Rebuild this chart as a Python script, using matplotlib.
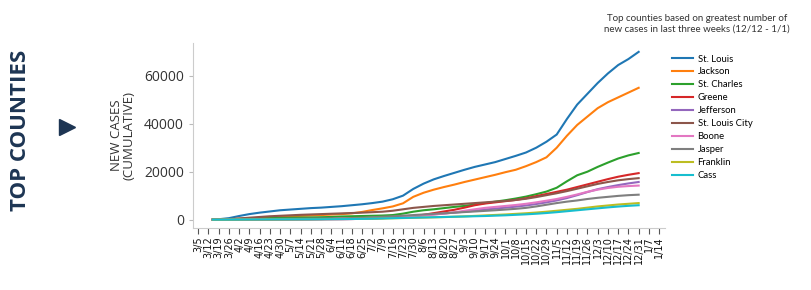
import matplotlib
matplotlib.use("Agg")
import matplotlib.pyplot as plt
from matplotlib.lines import Line2D
import pandas as pd

# weekly readings, first point 3/15, then every 7 days from 3/19 to 12/31
dates = pd.DatetimeIndex([pd.Timestamp("2020-03-15")]).append(
    pd.date_range("2020-03-19", "2020-12-31", freq="7D"))

st_louis = [0, 150, 600, 1500, 2300, 2900, 3400, 3900, 4200, 4500, 4800, 5000, 5300,
            5600, 6000, 6400, 6900, 7500, 8500, 10000, 12800, 15000, 16800, 18200, 19500,
            20800, 22000, 23000, 24000, 25300, 26600, 28000, 30000, 32500, 35500, 42000,
            48000, 52500, 57000, 61000, 64500, 67000, 70000]
jackson = [0, 30, 150, 350, 550, 750, 950, 1150, 1400, 1550, 1700, 1900, 2100, 2300,
           2600, 3200, 4000, 4700, 5500, 6800, 9500, 11200, 12500, 13600, 14600, 15700,
           16700, 17700, 18700, 19800, 20800, 22300, 24000, 26000, 30000, 35000, 39500,
           43000, 46500, 49000, 51000, 53000, 55000]
st_charles = [0, 20, 100, 250, 400, 500, 600, 700, 800, 850, 900, 1000, 1100, 1300,
              1400, 1500, 1600, 1700, 1900, 2500, 3300, 3900, 4300, 4800, 5300, 5700,
              6300, 6900, 7500, 8100, 8800, 9600, 10600, 11700, 13300, 16000, 18500,
              20000, 22000, 23800, 25500, 26800, 27800]
greene = [0, 10, 40, 70, 90, 100, 110, 120, 130, 140, 150, 160, 180, 200, 250, 330,
          450, 600, 800, 1100, 1500, 2000, 2700, 3400, 4100, 5000, 6000, 6700, 7200,
          7700, 8200, 8900, 9800, 10700, 11600, 12500, 13600, 14700, 15800, 16900,
          17900, 18700, 19400]
jefferson = [0, 10, 40, 100, 150, 200, 250, 280, 310, 340, 370, 400, 430, 470, 520,
             600, 700, 850, 1000, 1250, 1500, 1850, 2200, 2550, 2900, 3300, 3700, 4200,
             4600, 5000, 5400, 5900, 6500, 7200, 8000, 9000, 10200, 11500, 12700,
             13600, 14400, 15100, 15700]
st_louis_city = [0, 50, 200, 500, 800, 1100, 1400, 1600, 1800, 2000, 2150, 2300, 2450,
                 2600, 2750, 2900, 3100, 3300, 3700, 4300, 4900, 5300, 5700, 6000, 6300,
                 6600, 6900, 7200, 7500, 7800, 8200, 8700, 9400, 10200, 11000, 11900,
                 12900, 13900, 14900, 15700, 16400, 16900, 17300]
boone = [0, 10, 30, 60, 80, 90, 100, 110, 115, 120, 130, 140, 150, 170, 220, 350, 550,
         750, 950, 1200, 1500, 1800, 2100, 2500, 3000, 3700, 4300, 4900, 5300, 5700,
         6100, 6600, 7200, 7900, 8600, 9500, 10500, 11600, 12500, 13200, 13700, 14000,
         14200]
jasper = [0, 5, 10, 20, 30, 40, 50, 60, 70, 90, 120, 200, 350, 500, 650, 800, 1000,
          1200, 1400, 1650, 1900, 2150, 2400, 2650, 2900, 3150, 3400, 3650, 3900, 4200,
          4500, 4900, 5500, 6200, 6900, 7500, 8000, 8600, 9100, 9500, 9900, 10200, 10400]
franklin = [0, 5, 20, 50, 80, 100, 120, 140, 160, 180, 200, 220, 240, 260, 280, 320,
            380, 450, 550, 650, 750, 850, 950, 1050, 1200, 1350, 1550, 1750, 1950, 2150,
            2400, 2650, 2950, 3300, 3700, 4100, 4500, 5000, 5500, 5900, 6300, 6600, 6900]
cass = [0, 5, 20, 40, 60, 80, 100, 110, 120, 130, 140, 150, 170, 200, 250, 320, 400,
        500, 600, 700, 800, 900, 1000, 1100, 1200, 1300, 1400, 1500, 1650, 1800, 2000,
        2200, 2450, 2750, 3100, 3500, 3900, 4300, 4700, 5100, 5450, 5750, 6000]

counties = ["St. Louis", "Jackson", "St. Charles", "Greene", "Jefferson",
            "St. Louis City", "Boone", "Jasper", "Franklin", "Cass"]
series = [st_louis, jackson, st_charles, greene, jefferson,
          st_louis_city, boone, jasper, franklin, cass]

tick_dates = pd.date_range("2020-03-05", "2021-01-14", freq="7D")
tick_labels = [f"{d.month}/{d.day}" for d in tick_dates]

plt.rcParams["font.family"] = ["Open Sans", "DejaVu Sans"]

fig = plt.figure(figsize=(8.12, 2.90), dpi=100)
ax = fig.add_axes([193 / 812, 62 / 290, 472 / 812, 185 / 290])

for name, vals in zip(counties, series):
    ax.plot(dates, vals, lw=1.5, label=name)

ax.set_xlim(pd.Timestamp("2020-03-01 12:00"), pd.Timestamp("2021-01-18"))
ax.set_ylim(-3500, 73700)
ax.set_xticks(tick_dates)
ax.set_xticklabels(tick_labels, rotation=90, fontsize=7, color="#111111",
                   family="DejaVu Sans")
ax.set_yticks([0, 20000, 40000, 60000])
ax.tick_params(axis="y", labelsize=10, labelcolor="#333333", length=3, width=0.8,
               color="#bbbbbb")
ax.tick_params(axis="x", length=4, width=0.8, color="#555555", pad=2)
for s in ["top", "right"]:
    ax.spines[s].set_visible(False)
for s in ["left", "bottom"]:
    ax.spines[s].set_color("#cccccc")
    ax.spines[s].set_linewidth(0.8)

ax.set_ylabel("NEW CASES\n(CUMULATIVE)", fontsize=9.5, color="#333333",
              linespacing=0.95, labelpad=6)

fig.legend(loc="upper left", bbox_to_anchor=(664 / 812, 1 - 46 / 290),
           frameon=False, handlelength=2.2, labelspacing=0.42,
           handletextpad=0.45, prop={"family": "Lato", "size": 6.8})

fig.text(697 / 812, 1 - 24 / 290,
         "Top counties based on greatest number of\nnew cases in last three weeks (12/12 - 1/1)",
         ha="center", va="center", fontsize=7, family="Lato", color="#333333",
         linespacing=1.25)

fig.text(21 / 812, 1 - 130 / 290, "TOP COUNTIES", rotation=90, ha="center",
         va="center", fontsize=16, fontweight="bold", color="#1d3553")
fig.add_artist(Line2D([67 / 812], [1 - 127 / 290], marker=">", markersize=12,
                      color="#1d3553", transform=fig.transFigure))

fig.savefig("out.png", dpi=100)
